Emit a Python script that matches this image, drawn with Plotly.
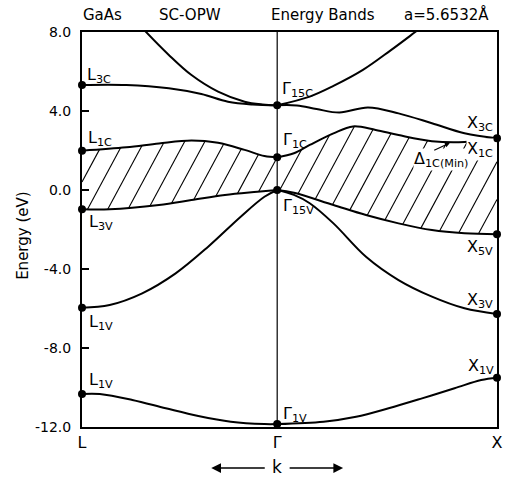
import numpy as np
import plotly.graph_objects as go

# ---------------- data (k along path L - Gamma - X ; energy in eV) ----------------
K_L, K_G, K_X = -0.888, 0.0, 1.0
E_MIN, E_MAX = -12.0, 8.0

tick_vals_y = [8, 4, 0, -4, -8, -12]
tick_text_y = ["8.0", "4.0", "0.0", "-4.0", "-8.0", "-12.0"]
tick_text_x = ["L", "Γ", "X"]

# conduction bands
bandA_k = [-0.659, -0.605, -0.493, -0.390, -0.269, -0.148, -0.067, 0.0]
bandA_E = [8.76, 8.10, 6.84, 5.82, 4.98, 4.47, 4.33, 4.29]

bandB_k = [K_L, -0.686, -0.493, -0.345, -0.224, -0.112, 0.0]
bandB_E = [5.32, 5.32, 5.15, 4.86, 4.47, 4.33, 4.29]

bandC_k = [0.0, 0.148, 0.256, 0.390, 0.516, 0.628, 0.717]
bandC_E = [4.29, 4.73, 5.27, 6.08, 7.07, 8.0, 8.75]

bandD_k = [0.0, 0.090, 0.179, 0.283, 0.413, 0.552, 0.704, 0.852, K_X]
bandD_E = [4.29, 4.28, 4.10, 3.92, 4.18, 3.88, 3.38, 2.87, 2.62]

bandE_L_k = [K_L, -0.686, -0.538, -0.390, -0.269, -0.148, -0.058, 0.0]
bandE_L_E = [1.99, 2.16, 2.36, 2.51, 2.39, 2.03, 1.72, 1.66]

bandE_G_k = [0.0, 0.076, 0.148, 0.256, 0.345, 0.448, 0.552, 0.704, 0.852, K_X]
bandE_G_E = [1.66, 1.86, 2.28, 2.87, 3.22, 3.04, 2.78, 2.47, 2.43, 2.62]

# valence bands
bandF_L_k = [K_L, -0.762, -0.538, -0.390, -0.238, -0.090, 0.0]
bandF_L_E = [-0.98, -0.98, -0.76, -0.51, -0.25, -0.09, 0.0]

bandF_G_k = [0.0, 0.076, 0.256, 0.404, 0.552, 0.704, 0.852, K_X]
bandF_G_E = [0.0, -0.14, -0.76, -1.27, -1.69, -2.03, -2.19, -2.24]

bandG_L_k = [K_L, -0.762, -0.614, -0.462, -0.314, -0.166, -0.058, 0.0]
bandG_L_E = [-5.96, -5.82, -5.23, -4.22, -2.87, -1.35, -0.34, 0.0]

bandG_G_k = [0.0, 0.076, 0.148, 0.256, 0.404, 0.552, 0.704, 0.852, K_X]
bandG_G_E = [0.0, -0.25, -0.67, -1.69, -3.38, -4.56, -5.40, -5.99, -6.28]

bandH_L_k = [K_L, -0.807, -0.659, -0.507, -0.359, -0.211, -0.058, 0.0]
bandH_L_E = [-10.33, -10.33, -10.63, -11.05, -11.44, -11.73, -11.85, -11.85]

bandH_G_k = [0.0, 0.211, 0.359, 0.507, 0.659, 0.807, 0.928, K_X]
bandH_G_E = [-11.85, -11.73, -11.48, -11.05, -10.55, -10.04, -9.62, -9.50]

# symmetry-point states (dots)
dot_k = [K_L, K_L, K_L, K_L, K_L, 0, 0, 0, 0, K_X, K_X, K_X, K_X]
dot_E = [5.32, 1.99, -0.98, -5.96, -10.33, 4.29, 1.66, 0.0, -11.85, 2.62, -2.24, -6.28, -9.50]

# ---------------- layout constants ----------------
W, H = 507, 479
ML, MR, MT, MB = 82, 4, 32, 52
PW, PH = W - ML - MR, H - MT - MB
FONT = "DejaVu Sans"

fig = go.Figure()

segments = [
    (bandA_k, bandA_E), (bandB_k, bandB_E), (bandC_k, bandC_E), (bandD_k, bandD_E),
    (bandE_L_k, bandE_L_E), (bandE_G_k, bandE_G_E),
    (bandF_L_k, bandF_L_E), (bandF_G_k, bandF_G_E),
    (bandG_L_k, bandG_L_E), (bandG_G_k, bandG_G_E),
    (bandH_L_k, bandH_L_E), (bandH_G_k, bandH_G_E),
]


# ---------------- hatching of the gap region (between band E and band F) ----------------
def hermite(xs, ys, xq):
    xs = np.asarray(xs, float)
    ys = np.asarray(ys, float)
    n = len(xs)
    m = np.zeros(n)
    m[0] = (ys[1] - ys[0]) / (xs[1] - xs[0])
    m[-1] = (ys[-1] - ys[-2]) / (xs[-1] - xs[-2])
    m[1:-1] = (ys[2:] - ys[:-2]) / (xs[2:] - xs[:-2])
    i = np.clip(np.searchsorted(xs, xq) - 1, 0, n - 2)
    h = xs[i + 1] - xs[i]
    t = (xq - xs[i]) / h
    h00 = 2 * t**3 - 3 * t**2 + 1
    h10 = t**3 - 2 * t**2 + t
    h01 = -2 * t**3 + 3 * t**2
    h11 = t**3 - t**2
    return h00 * ys[i] + h10 * h * m[i] + h01 * ys[i + 1] + h11 * h * m[i + 1]


def upper(k):
    return np.where(k <= 0, hermite(bandE_L_k, bandE_L_E, k), hermite(bandE_G_k, bandE_G_E, k))


def lower(k):
    return np.where(k <= 0, hermite(bandF_L_k, bandF_L_E, k), hermite(bandF_G_k, bandF_G_E, k))


slope_px = 1.83
spacing_px = 20.5
px = np.linspace(ML, ML + PW, 3000)
kk = K_L + (px - ML) / PW * (K_X - K_L)
up = upper(kk)
lo = lower(kk)
hx, hy = [], []
c0 = 182 + slope_px * ML
for j in range(-40, 60):
    c = c0 + j * slope_px * spacing_px
    py = c - slope_px * px
    El = E_MAX - (py - MT) / PH * (E_MAX - E_MIN)
    mask = (El <= up) & (El >= lo)
    if not mask.any():
        continue
    idx = np.where(mask)[0]
    runs = np.split(idx, np.where(np.diff(idx) > 1)[0] + 1)
    for r in runs:
        if len(r) < 2:
            continue
        hx += [kk[r[0]], kk[r[-1]], None]
        hy += [El[r[0]], El[r[-1]], None]

fig.add_trace(go.Scatter(x=hx, y=hy, mode="lines", line=dict(color="black", width=1.1),
                         hoverinfo="skip", showlegend=False))

for ks, es in segments:
    fig.add_trace(go.Scatter(x=ks, y=es, mode="lines", line=dict(color="black", width=2, shape="spline"),
                             showlegend=False))

fig.add_trace(go.Scatter(x=dot_k, y=dot_E, mode="markers", marker=dict(color="black", size=8),
                         cliponaxis=False, showlegend=False))

# Gamma vertical line
fig.add_shape(type="line", x0=0, x1=0, y0=E_MIN, y1=E_MAX, line=dict(color="black", width=1.2), layer="below")

# ---------------- labels ----------------
labels = [
    ("L<sub>3C</sub>", -0.870, 5.82, "left", False),
    ("Γ<sub>15C</sub>", 0.018, 5.11, "left", False),
    ("L<sub>1C</sub>", -0.866, 2.63, "left", False),
    ("Γ<sub>1C</sub>", 0.022, 2.53, "left", False),
    ("X<sub>3C</sub>", 0.987, 3.39, "right", False),
    ("X<sub>1C</sub>", 0.987, 2.03, "right", True),
    ("Δ<sub>1C(Min)</sub>", 0.619, 1.52, "left", True),
    ("L<sub>3V</sub>", -0.861, -1.67, "left", False),
    ("Γ<sub>15V</sub>", 0.022, -0.86, "left", False),
    ("X<sub>5V</sub>", 0.987, -2.89, "right", False),
    ("X<sub>3V</sub>", 0.987, -5.61, "right", False),
    ("L<sub>1V</sub>", -0.861, -6.73, "left", False),
    ("L<sub>1V</sub>", -0.861, -9.62, "left", False),
    ("X<sub>1V</sub>", 0.990, -8.96, "right", False),
    ("Γ<sub>1V</sub>", 0.022, -11.39, "left", False),
]
ann = []
for txt, x, y, xa, bg in labels:
    ann.append(dict(text=txt, x=x, y=y, xref="x", yref="y", xanchor=xa, yanchor="middle",
                    showarrow=False, font=dict(family=FONT, size=16, color="black"),
                    bgcolor="white" if bg else None, borderpad=0))

# arrow for Delta_1C(Min)
ann.append(dict(text="", x=0.785, y=2.38, xref="x", yref="y", showarrow=True, ax=-17, ay=8,
                arrowhead=2, arrowsize=0.8, arrowwidth=1.2, arrowcolor="black"))

# header texts
def px2paper_x(p):
    return (p - ML) / PW


def py2paper_y(p):
    return (H - MB - p) / PH


for txt, cx in [("GaAs", 103), ("SC-OPW", 192), ("Energy Bands", 326), ("a=5.6532Å", 452)]:
    ann.append(dict(text=txt, x=px2paper_x(cx), y=py2paper_y(15), xref="paper", yref="paper",
                    xanchor="center", yanchor="middle", showarrow=False,
                    font=dict(family=FONT, size=15, color="black")))

# y-axis title
ann.append(dict(text="Energy (eV)", x=px2paper_x(22), y=py2paper_y(236), xref="paper", yref="paper",
                textangle=-90, showarrow=False, xanchor="center", yanchor="middle",
                font=dict(family=FONT, size=15, color="black")))

# k arrows
ann.append(dict(text="k", x=0, y=py2paper_y(467), xref="x", yref="paper", showarrow=False,
                xanchor="center", yanchor="middle", font=dict(family=FONT, size=17, color="black")))
ann.append(dict(text="", x=-0.300, y=py2paper_y(468), xref="x", yref="paper", showarrow=True,
                ax=55, ay=0, arrowhead=2, arrowsize=1.3, arrowwidth=1.5, arrowcolor="black"))
ann.append(dict(text="", x=0.300, y=py2paper_y(468), xref="x", yref="paper", showarrow=True,
                ax=-55, ay=0, arrowhead=2, arrowsize=1.3, arrowwidth=1.5, arrowcolor="black"))

fig.update_layout(
    width=W, height=H,
    margin=dict(l=ML, r=MR, t=MT, b=MB, pad=0),
    paper_bgcolor="white", plot_bgcolor="white",
    annotations=ann,
    font=dict(family=FONT, size=14, color="black"),
    xaxis=dict(range=[K_L, K_X], tickvals=[K_L, K_G, K_X], ticktext=tick_text_x, ticks="",
               showgrid=False, zeroline=False, showline=True, mirror=True, linecolor="black",
               linewidth=2, tickfont=dict(family=FONT, size=16, color="black")),
    yaxis=dict(range=[E_MIN, E_MAX], tickvals=tick_vals_y, ticktext=tick_text_y, ticks="inside",
               ticklen=7, tickwidth=1.5, tickcolor="black", ticklabelstandoff=6,
               showgrid=False, zeroline=False, showline=True, mirror=True, linecolor="black",
               linewidth=2, tickfont=dict(family=FONT, size=14, color="black")),
)

fig.write_html("out.html", config={"displayModeBar": False},
               post_script="document.body.style.margin='0px';")
